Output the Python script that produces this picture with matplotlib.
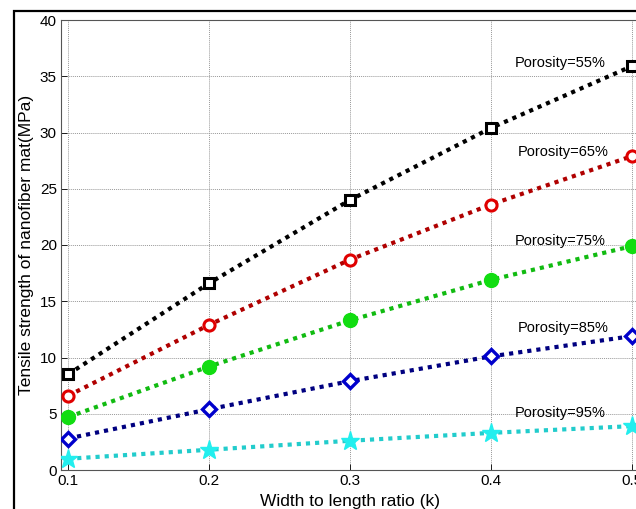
import matplotlib
matplotlib.use("Agg")
import matplotlib.pyplot as plt
from matplotlib.patches import Rectangle

plt.rcParams['font.family'] = ['Liberation Sans', 'DejaVu Sans']

ratio = [0.1, 0.2, 0.3, 0.4, 0.5]
p55 = [8.5, 16.6, 24.0, 30.4, 35.9]
p65 = [6.6, 12.9, 18.7, 23.6, 27.9]
p75 = [4.7, 9.2, 13.3, 16.9, 19.9]
p85 = [2.8, 5.4, 7.9, 10.1, 11.9]
p95 = [1.0, 1.8, 2.6, 3.3, 3.9]
labels = ["Porosity=55%", "Porosity=65%", "Porosity=75%", "Porosity=85%", "Porosity=95%"]
xticks = [0.1, 0.2, 0.3, 0.4, 0.5]
yticks = [0, 5, 10, 15, 20, 25, 30, 35, 40]

W, H = 636, 509
fig = plt.figure(figsize=(W / 100, H / 100), dpi=100)
fig.patch.set_facecolor('white')

# outer frame around the figure
fig.patches.append(Rectangle((14 / W, -0.1), 1.2, (H - 11) / H + 0.1, transform=fig.transFigure,
                             fill=False, edgecolor='black', linewidth=1.6, zorder=0))

ax = fig.add_axes([61 / W, 39 / H, 578 / W, 450 / H])

styles = [
    dict(color='black', marker='s', mfc='white', mec='black', ms=7, mew=2.2),
    dict(color='#b00000', marker='o', mfc='white', mec='#e00000', ms=8, mew=2.2),
    dict(color='#11bb11', marker='o', mfc='#11dd11', mec='#11dd11', ms=10, mew=1),
    dict(color='#000080', marker='D', mfc='white', mec='#0000cc', ms=7, mew=2.4),
    dict(color='#22cccc', marker='*', mfc='#22eeee', mec='#22eeee', ms=14, mew=1),
]
series = [p55, p65, p75, p85, p95]
for vals, st in zip(series, styles):
    ax.plot(ratio, vals, linestyle=(0, (1, 1.2)), linewidth=3, zorder=3, **st)

# curve labels
label_pos = [(0.417, 36.2), (0.419, 28.3), (0.417, 20.4), (0.419, 12.6), (0.417, 5.1)]
for (lx, ly), txt in zip(label_pos, labels):
    ax.text(lx, ly, txt, fontsize=10.5, ha='left', va='center', zorder=4)

ax.set_xlim(0.095, 0.505)
ax.set_ylim(0, 40)
ax.set_xticks(xticks)
ax.set_xticklabels([f"{v:g}" for v in xticks])
ax.set_yticks(yticks)
ax.tick_params(direction='in', labelsize=11, length=4, width=0.6, pad=3)
ax.grid(True, linestyle=(0, (1, 1)), color='#999999', linewidth=0.7)
ax.set_axisbelow(True)
for s in ax.spines.values():
    s.set_linewidth(0.8)
    s.set_color('#555555')

ax.set_xlabel("Width to length ratio (k)", fontsize=12.5, labelpad=4)
ax.set_ylabel("Tensile strength of nanofiber mat(MPa)", fontsize=12.5, labelpad=4)

fig.savefig("out.png", dpi=100, facecolor='white')
